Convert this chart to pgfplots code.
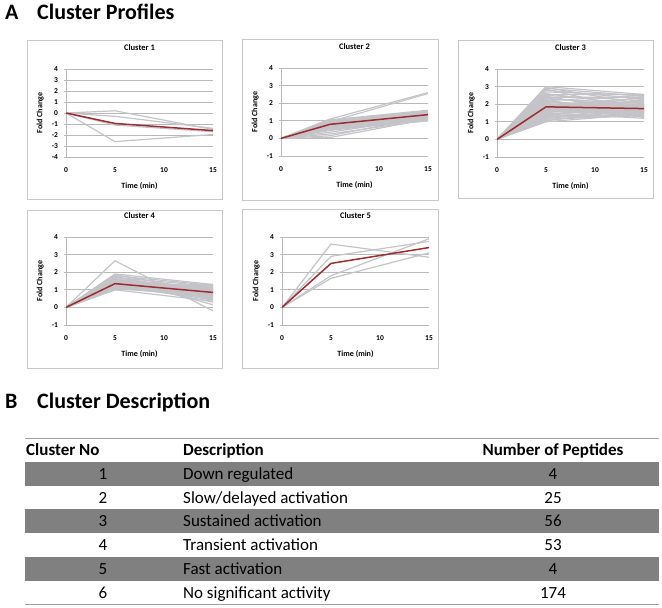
\documentclass[border=0pt]{standalone}
\usepackage{pgfplots}
\usepackage{pgfplotstable}
\pgfplotsset{compat=1.18}
\usepackage{fontspec}
\setmainfont{Carlito}

\definecolor{linegray}{RGB}{196,196,200}
\definecolor{gridgray}{RGB}{185,185,185}
\definecolor{framegray}{RGB}{200,200,200}
\definecolor{meanred}{RGB}{158,43,48}
\definecolor{rowgray}{RGB}{128,128,128}
\definecolor{rulegray}{RGB}{160,160,160}

% Cluster 1: 4 peptides (rows: time 0, 5, 15)
\pgfplotstableread[header=false]{
0  0 0 0 0
5  0.2 -0.3 -1.1 -2.6
15 -1.5 -1.4 -1.7 -1.95
}\cA

% Cluster 2: 25 peptides
\pgfplotstableread[header=false]{
0  0 0 0 0 0  0 0 0 0 0  0 0 0 0 0  0 0 0 0 0  0 0 0 0 0
5  1.10 0.95 1.05 1.00 0.95  0.90 0.90 0.85 0.85 0.80  0.80 0.75 0.75 0.70 0.70  0.65 0.60 0.55 0.50 0.45  0.35 0.25 0.15 0.05 1.05
15 2.60 2.55 1.60 1.55 1.50  1.45 1.40 1.35 1.30 1.30  1.25 1.20 1.20 1.15 1.10  1.10 1.05 1.00 1.00 1.15  1.20 1.05 1.25 1.10 1.50
}\cB

% Cluster 3: 56 peptides
\pgfplotstableread[header=false]{
0  0 0 0 0 0  0 0 0 0 0  0 0 0 0 0  0 0 0 0 0  0 0 0 0 0  0 0 0 0 0  0 0 0 0 0  0 0 0 0 0  0 0 0 0 0  0 0 0 0 0  0 0 0 0 0  0
5  3.00 2.95 2.90 2.85 2.80  2.70 2.60 2.50 2.45 2.40  2.35 2.30 2.25 2.20 2.15  2.10 2.05 2.00 2.00 1.95  1.95 1.90 1.90 1.85 1.85  1.80 1.80 1.75 1.75 1.70  1.70 1.65 1.65 1.60 1.60  1.55 1.50 1.50 1.45 1.40  1.40 1.35 1.30 1.30 1.25  1.20 1.20 1.15 1.10 1.05  1.00 2.55 2.25 1.95 1.75  1.55
15 2.55 2.00 2.45 1.60 2.30  2.50 1.90 2.20 1.50 2.40  1.80 2.05 1.35 2.50 1.70  1.95 1.25 2.15 1.65 1.85  2.35 1.55 1.75 2.10 1.45  1.90 1.60 2.00 1.30 1.80  1.70 2.25 1.40 1.95 1.55  1.75 2.45 1.20 1.65 1.85  2.05 1.50 1.60 2.30 1.40  1.70 1.90 1.35 1.55 1.80  1.45 2.55 1.25 2.00 1.65  1.75
}\cC

% Cluster 4: 53 peptides
\pgfplotstableread[header=false]{
0  0 0 0 0 0  0 0 0 0 0  0 0 0 0 0  0 0 0 0 0  0 0 0 0 0  0 0 0 0 0  0 0 0 0 0  0 0 0 0 0  0 0 0 0 0  0 0 0 0 0  0 0 0
5  2.65 1.90 1.85 1.80 1.75  1.70 1.65 1.60 1.60 1.55  1.55 1.50 1.50 1.45 1.45  1.40 1.40 1.40 1.35 1.35  1.35 1.30 1.30 1.30 1.25  1.25 1.25 1.20 1.20 1.20  1.15 1.15 1.15 1.10 1.10  1.10 1.05 1.05 1.00 1.00  1.70 1.50 1.30 1.20 1.45  1.35 1.25 1.40 1.60 1.10  1.30 1.20 1.75
15 -0.20 1.30 0.90 1.25 0.60  1.20 0.15 1.10 0.80 1.00  0.50 1.15 0.70 0.95 0.40  1.05 0.85 0.30 1.20 0.75  0.90 1.00 0.65 1.10 0.55  0.95 0.80 1.25 0.45 0.85  1.05 0.70 0.90 1.15 0.60  0.80 1.00 0.75 0.35 1.10  0.85 0.95 0.65 1.20 0.90  0.50 1.05 0.80 0.70 1.00  0.85 1.30 0.75
}\cD

% Cluster 5: 4 peptides
\pgfplotstableread[header=false]{
0  0 0 0 0
5  3.60 2.90 1.80 1.65
15 2.85 3.75 3.90 3.10
}\cE

% Cluster means
\pgfplotstableread{
t  m1    m2   m3   m4   m5
0  0     0    0    0    0
5  -0.95 0.80 1.85 1.35 2.50
15 -1.60 1.35 1.75 0.85 3.40
}\means

\pgfplotsset{
  clus/.style={
    scale only axis, width=147pt, height=88pt,
    anchor=north west,
    xmin=0, xmax=15, xtick={0,5,10,15},
    ymin=-1, ymax=4, ytick={-1,0,1,2,3,4},
    axis x line=bottom, axis y line=left,
    axis line style={draw=gridgray, line width=0.7pt, -},
    every inner x axis line/.append style={-},
    every inner y axis line/.append style={-},
    every outer x axis line/.append style={-},
    every outer y axis line/.append style={-},
    ymajorgrids, major grid style={draw=gridgray, line width=0.7pt},
    tick align=outside, major tick length=2.5pt,
    ytick style={draw=gridgray, line width=0.7pt},
    xtick style={draw=none},
    /pgf/number format/assume math mode=true,
    ticklabel style={font=\fontsize{7.5}{8}\selectfont\bfseries},
    yticklabel style={xshift=-2pt},
    xticklabel style={yshift=-5pt},
    title style={font=\fontsize{8.5}{10}\selectfont\bfseries, at={(axis description cs:0.5,1.18)}, anchor=center},
    xlabel={Time (min)}, ylabel={Fold Change},
    xlabel style={font=\fontsize{8}{9}\selectfont\bfseries, at={(axis description cs:0.5,-0.33)}, anchor=center},
    ylabel style={font=\fontsize{8}{9}\selectfont\bfseries, at={(axis description cs:-0.175,0.5)}, anchor=center},
  },
  pep/.style={linegray, line width=1.2pt},
  avg/.style={meanred, line width=1.5pt},
}

\begin{document}
\begin{tikzpicture}[x=1pt,y=1pt]
\path[use as bounding box] (0,0) rectangle (662,-608);

% Section titles
\node[anchor=base west, inner sep=0, font=\fontsize{22}{26}\selectfont\bfseries] at (5,-19) {A};
\node[anchor=base west, inner sep=0, font=\fontsize{22}{26}\selectfont\bfseries] at (37,-19) {Cluster Profiles};
\node[anchor=base west, inner sep=0, font=\fontsize{22}{26}\selectfont\bfseries] at (5,-408) {B};
\node[anchor=base west, inner sep=0, font=\fontsize{22}{26}\selectfont\bfseries] at (37,-408) {Cluster Description};

% Panel frames
\draw[framegray, line width=0.8pt] (27,-40) rectangle (222,-199);
\draw[framegray, line width=0.8pt] (242,-39) rectangle (438,-200);
\draw[framegray, line width=0.8pt] (458,-40) rectangle (653,-198);
\draw[framegray, line width=0.8pt] (27,-210) rectangle (222,-368);
\draw[framegray, line width=0.8pt] (242,-209) rectangle (438,-368);

% Cluster 1
\begin{axis}[clus, at={(66pt,-69pt)}, ymin=-4, ymax=4, ytick={-4,-3,-2,-1,0,1,2,3,4}, title={Cluster 1}]
\pgfplotsinvokeforeach{1,...,4}{\addplot[pep] table[x index=0, y index=#1]{\cA};}
\addplot[avg] table[x=t, y=m1]{\means};
\end{axis}

% Cluster 2
\begin{axis}[clus, at={(281pt,-68pt)}, title={Cluster 2}]
\pgfplotsinvokeforeach{1,...,25}{\addplot[pep] table[x index=0, y index=#1]{\cB};}
\addplot[avg] table[x=t, y=m2]{\means};
\end{axis}

% Cluster 3
\begin{axis}[clus, at={(497pt,-69pt)}, title={Cluster 3}]
\pgfplotsinvokeforeach{1,...,56}{\addplot[pep] table[x index=0, y index=#1]{\cC};}
\addplot[avg] table[x=t, y=m3]{\means};
\end{axis}

% Cluster 4
\begin{axis}[clus, at={(66pt,-237pt)}, title={Cluster 4}]
\pgfplotsinvokeforeach{1,...,53}{\addplot[pep] table[x index=0, y index=#1]{\cD};}
\addplot[avg] table[x=t, y=m4]{\means};
\end{axis}

% Cluster 5
\begin{axis}[clus, at={(282pt,-237pt)}, title={Cluster 5}]
\pgfplotsinvokeforeach{1,...,4}{\addplot[pep] table[x index=0, y index=#1]{\cE};}
\addplot[avg] table[x=t, y=m5]{\means};
\end{axis}

% Table
\fill[rowgray] (25,-462) rectangle (659,-485.5);
\fill[rowgray] (25,-509) rectangle (659,-533);
\fill[rowgray] (25,-557) rectangle (659,-581);
\draw[rulegray, line width=1pt] (25,-438) -- (659,-438);
\draw[rulegray, line width=1pt] (25,-604) -- (659,-604);

\begin{scope}[every node/.style={inner sep=0, font=\fontsize{17}{20}\selectfont}]
\node[anchor=base west, font=\fontsize{17}{20}\selectfont\bfseries] at (26,-455.5) {Cluster No};
\node[anchor=base west, font=\fontsize{17}{20}\selectfont\bfseries] at (183,-455.5) {Description};
\node[anchor=base, font=\fontsize{17}{20}\selectfont\bfseries] at (553,-455.5) {Number of Peptides};

\node[anchor=base] at (103,-479) {1};
\node[anchor=base west] at (183,-479) {Down regulated};
\node[anchor=base] at (553,-479) {4};

\node[anchor=base] at (103,-503) {2};
\node[anchor=base west] at (183,-503) {Slow/delayed activation};
\node[anchor=base] at (553,-503) {25};

\node[anchor=base] at (103,-526.5) {3};
\node[anchor=base west] at (183,-526.5) {Sustained activation};
\node[anchor=base] at (553,-526.5) {56};

\node[anchor=base] at (103,-550.5) {4};
\node[anchor=base west] at (183,-550.5) {Transient activation};
\node[anchor=base] at (553,-550.5) {53};

\node[anchor=base] at (103,-574.5) {5};
\node[anchor=base west] at (183,-574.5) {Fast activation};
\node[anchor=base] at (553,-574.5) {4};

\node[anchor=base] at (103,-598) {6};
\node[anchor=base west] at (183,-598) {No significant activity};
\node[anchor=base] at (553,-598) {174};
\end{scope}
\end{tikzpicture}
\end{document}
